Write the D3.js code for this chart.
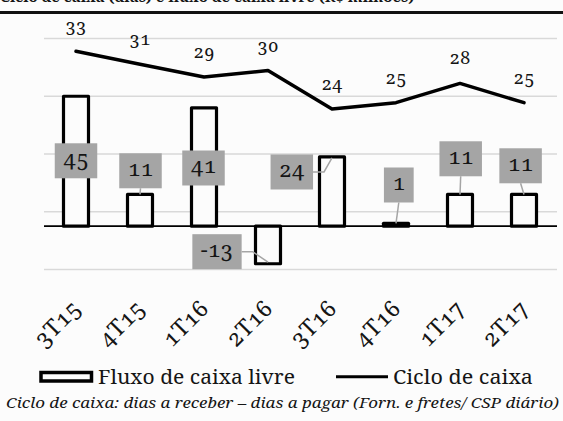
<!DOCTYPE html>
<html><head><meta charset="utf-8">
<script src="https://cdn.jsdelivr.net/npm/d3@7"></script>
<style>
html,body{margin:0;padding:0;background:#fcfcfc;}
svg{display:block;}
svg text{font-family:"Noto Serif","DejaVu Serif",serif;fill:#151515;font-variant-numeric:oldstyle-nums;font-feature-settings:"onum" 1;}
</style></head>
<body>
<svg id="c" width="563" height="421"></svg>
<script>
// ---- data ----
const categories = ["3T15","4T15","1T16","2T16","3T16","4T16","1T17","2T17"];
const fluxoCaixa = [45, 11, 41, -13, 24, 1, 11, 11];      // bars
const cicloCaixa = [33, 31, 29, 30, 24, 25, 28, 25];      // line
const gridValues = [-15, 5, 25, 45, 65];                  // gridlines (bar axis)
const seriesNames = ["Fluxo de caixa livre", "Ciclo de caixa"];
const footnote = "Ciclo de caixa: dias a receber \u2013 dias a pagar (Forn. e fretes/ CSP diário)";
const titleText = "Ciclo de caixa (dias) e fluxo de caixa livre (R$ milhões)";
// manual label placement (layout only): offset of label box centre from bar centre / zero line
const barLabelOffsets = [[0,-65.4],[0.5,-55.4],[-0.5,-58.2],[-51,25.5],[-40.2,-54.2],[2.8,-41.2],[0.7,-67.4],[-3.4,-60.4]];

const svg = d3.select("#c");
const W = 563, H = 421;
svg.append("rect").attr("width",W).attr("height",H).attr("fill","#fcfcfc");

// title (cropped at top, as in the reference)
svg.append("text").attr("x",0).attr("y",1.5).attr("font-weight","bold")
  .attr("font-size",15).text(titleText);
svg.append("line").attr("x1",0).attr("x2",W).attr("y1",12.5).attr("y2",12.5)
  .attr("stroke","#111").attr("stroke-width",3);

const x = d3.scaleBand().domain(categories).range([44, 556]).padding(0);
const yBar = d3.scaleLinear().domain([-15, 65]).range([269.5, 38.5]);
const yLine = d3.scaleLinear().domain([-1, 35]).range([269.5, 38.5]);

// gridlines
svg.append("g").selectAll("line").data(gridValues).join("line")
  .attr("x1",44).attr("x2",557)
  .attr("y1",d=>yBar(d)).attr("y2",d=>yBar(d))
  .attr("stroke","#d9d9d9").attr("stroke-width",1.5);

// bars
const bw = 25;
svg.append("g").selectAll("rect").data(fluxoCaixa).join("rect")
  .attr("x",(d,i)=>x(categories[i])+x.bandwidth()/2-bw/2)
  .attr("y",d=>Math.min(yBar(d),yBar(0)))
  .attr("width",bw)
  .attr("height",d=>Math.abs(yBar(d)-yBar(0)))
  .attr("fill","#fcfcfc").attr("stroke","#000").attr("stroke-width",3.2)
  .attr("stroke-linejoin","round");

// zero axis line
svg.append("line").attr("x1",44).attr("x2",557).attr("y1",yBar(0)).attr("y2",yBar(0))
  .attr("stroke","#000").attr("stroke-width",1.8);

// line series
const cx = i => x(categories[i]) + x.bandwidth()/2;
svg.append("path").datum(cicloCaixa)
  .attr("d", d3.line().x((d,i)=>cx(i)).y(d=>yLine(d)))
  .attr("fill","none").attr("stroke","#000").attr("stroke-width",3.5)
  .attr("stroke-linejoin","round").attr("stroke-linecap","round");

// line labels
svg.append("g").selectAll("text").data(cicloCaixa).join("text")
  .attr("x",(d,i)=>cx(i)).attr("y",d=>yLine(d)-19)
  .attr("text-anchor","middle").attr("font-size",18).text(d=>d);

// bar labels with boxes and leader lines
const lg = svg.append("g");
fluxoCaixa.forEach((v,i)=>{
  const [dx,dy] = barLabelOffsets[i];
  const bx = cx(i)+dx, by = yBar(0)+dy;
  const t = lg.append("text").attr("font-size",22).attr("text-anchor","middle")
     .attr("x",bx).attr("y",by+5).text(v);
  const tw = t.node().getComputedTextLength();
  const w = tw + 17, h = 35;
  if (Math.abs(dx) > 20) {
    const sx = dx<0 ? bx + w/2 : bx - w/2;
    const kx = sx + (dx<0 ? 11 : -11);
    const tx = cx(i);
    const ty = v<0 ? yBar(v)-1.5 : yBar(v)+1;
    lg.insert("polyline","text").attr("points",`${sx},${by} ${kx},${by} ${tx},${ty}`)
      .attr("fill","none").attr("stroke","#a5a5a5").attr("stroke-width",1.5);
  } else if (by + h/2 < yBar(v) - 3) {
    lg.insert("line","text").attr("x1",bx).attr("y1",by+h/2).attr("x2",cx(i)).attr("y2",yBar(v))
      .attr("stroke","#a5a5a5").attr("stroke-width",1.5);
  }
  lg.insert("rect","text").attr("x",bx-w/2).attr("y",by-h/2).attr("width",w).attr("height",h)
    .attr("fill","#a5a5a5");
});
lg.raise();

// x axis labels
svg.append("g").selectAll("text").data(categories).join("text")
  .attr("transform",(d,i)=>`translate(${cx(i)+6},310) rotate(-45)`)
  .attr("text-anchor","end").attr("font-size",23).text(d=>d);

// legend
svg.append("rect").attr("x",41).attr("y",372.5).attr("width",50.5).attr("height",8.5)
  .attr("fill","#fcfcfc").attr("stroke","#000").attr("stroke-width",3.5);
svg.append("text")
  .attr("x",98).attr("y",384.3).attr("font-size",20)
  .attr("textLength",197).attr("lengthAdjust","spacingAndGlyphs").text(seriesNames[0]);
svg.append("line").attr("x1",336).attr("x2",388).attr("y1",376.7).attr("y2",376.7)
  .attr("stroke","#000").attr("stroke-width",3);
svg.append("text")
  .attr("x",393).attr("y",384.3).attr("font-size",20)
  .attr("textLength",140).attr("lengthAdjust","spacingAndGlyphs").text(seriesNames[1]);

// footnote
svg.append("text")
  .attr("x",6).attr("y",408).attr("font-size",14).attr("font-style","italic")
  .attr("textLength",553).attr("lengthAdjust","spacingAndGlyphs").text(footnote);
</script>
</body></html>
